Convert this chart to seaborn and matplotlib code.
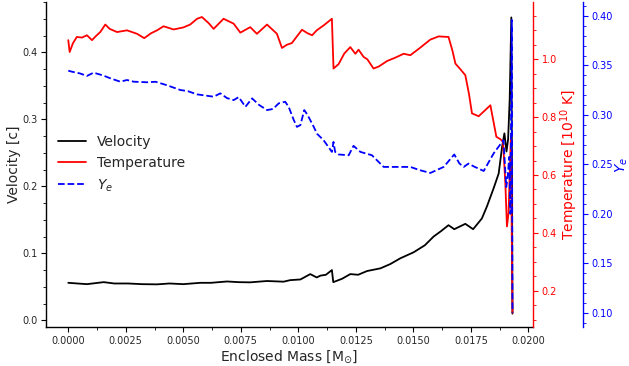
import matplotlib
matplotlib.use("Agg")
import matplotlib.pyplot as plt
from matplotlib.ticker import MultipleLocator, AutoMinorLocator
import seaborn as sns

# Radial profiles against enclosed mass (solar masses)
mass_vel = [0.0000, 0.0004, 0.00081, 0.00154, 0.0020, 0.0026, 0.0032, 0.00386,
            0.0044, 0.0050, 0.00574, 0.0062, 0.0069, 0.0074, 0.0079, 0.00864,
            0.00936, 0.00965, 0.01009, 0.01052, 0.0108, 0.01096, 0.0112, 0.01146,
            0.01152, 0.0119, 0.01226, 0.0126, 0.01299, 0.01357, 0.01400, 0.01443,
            0.01501, 0.0155, 0.01588, 0.0162, 0.01653, 0.01678, 0.01726, 0.01760,
            0.01798, 0.0182, 0.01849, 0.01871, 0.01886, 0.01896, 0.01905, 0.01912,
            0.01919, 0.01926, 0.01931]
velocity = [0.056, 0.055, 0.054, 0.057, 0.055, 0.055, 0.054, 0.0537,
            0.055, 0.054, 0.056, 0.056, 0.058, 0.057, 0.0567, 0.0587,
            0.0577, 0.060, 0.061, 0.069, 0.064, 0.0667, 0.068, 0.075,
            0.057, 0.062, 0.069, 0.068, 0.0736, 0.0776, 0.084, 0.0925,
            0.1015, 0.112, 0.125, 0.133, 0.142, 0.136, 0.144, 0.136,
            0.152, 0.170, 0.197, 0.219, 0.259, 0.279, 0.252, 0.270,
            0.330, 0.452, 0.010]

mass_temp = [0.0000, 0.00006, 0.0002, 0.00037, 0.0006, 0.00081, 0.00103, 0.0012,
             0.00139, 0.00161, 0.0018, 0.00212, 0.00255, 0.00299, 0.0033, 0.0036,
             0.00386, 0.00414, 0.00458, 0.0050, 0.0053, 0.0056, 0.00581, 0.0061,
             0.00632, 0.00675, 0.00719, 0.00748, 0.00791, 0.0082, 0.00864, 0.00907,
             0.00929, 0.0095, 0.00972, 0.0099, 0.01016, 0.0104, 0.0106, 0.0108,
             0.0111, 0.01146, 0.01153, 0.01175, 0.0120, 0.01226, 0.01248, 0.01262,
             0.01284, 0.0130, 0.01327, 0.0135, 0.01386, 0.0142, 0.01458, 0.01487,
             0.0153, 0.01574, 0.0161, 0.01653, 0.0167, 0.01683, 0.01705, 0.01726,
             0.01742, 0.01755, 0.01784, 0.01835, 0.01861, 0.01878, 0.0189, 0.0190,
             0.01907, 0.01914, 0.01924, 0.01931]
temperature = [1.066, 1.025, 1.055, 1.077, 1.075, 1.083, 1.066, 1.080,
               1.094, 1.120, 1.105, 1.094, 1.100, 1.088, 1.073, 1.090,
               1.100, 1.114, 1.103, 1.110, 1.120, 1.140, 1.146, 1.125,
               1.105, 1.140, 1.123, 1.092, 1.111, 1.088, 1.120, 1.088,
               1.039, 1.050, 1.056, 1.075, 1.102, 1.090, 1.083, 1.100,
               1.117, 1.140, 0.968, 0.983, 1.020, 1.042, 1.019, 1.033,
               1.008, 1.000, 0.968, 0.975, 0.994, 1.005, 1.019, 1.014,
               1.040, 1.068, 1.079, 1.077, 1.030, 0.985, 0.965, 0.945,
               0.880, 0.813, 0.803, 0.841, 0.732, 0.724, 0.715, 0.572,
               0.422, 0.469, 0.727, 0.124]

mass_ye = [0.0000, 0.00016, 0.0005, 0.00081, 0.0011, 0.0015, 0.00183, 0.00226,
           0.00255, 0.00284, 0.00342, 0.0038, 0.00429, 0.00487, 0.0052, 0.00559,
           0.00632, 0.00661, 0.0069, 0.00719, 0.00741, 0.0077, 0.00799, 0.0083,
           0.00864, 0.0089, 0.00915, 0.00943, 0.00958, 0.0098, 0.00994, 0.01009,
           0.01026, 0.0104, 0.01067, 0.01081, 0.0111, 0.01146, 0.01153, 0.0116,
           0.01175, 0.01219, 0.0124, 0.0127, 0.0132, 0.01371, 0.01443, 0.01487,
           0.0153, 0.01574, 0.01632, 0.01678, 0.0170, 0.01719, 0.0174, 0.01762,
           0.01806, 0.01849, 0.01886, 0.01892, 0.01904, 0.0191, 0.01917, 0.01922,
           0.01928, 0.01931]
ye = [0.3447, 0.3437, 0.3420, 0.3394, 0.3427, 0.3400, 0.3370, 0.3336,
      0.3353, 0.3336, 0.3330, 0.3335, 0.3300, 0.3252, 0.3240, 0.3208,
      0.3184, 0.3218, 0.3170, 0.3150, 0.3180, 0.3082, 0.3167, 0.3100,
      0.3049, 0.3060, 0.3117, 0.3133, 0.3082, 0.2950, 0.2879, 0.2897,
      0.3049, 0.3000, 0.2880, 0.2810, 0.2744, 0.2626, 0.2727, 0.2626,
      0.2600, 0.2592, 0.2687, 0.2626, 0.2592, 0.2474, 0.2474, 0.2474,
      0.2440, 0.2413, 0.2474, 0.2600, 0.2510, 0.2474, 0.2508, 0.2480,
      0.2433, 0.2610, 0.2727, 0.2744, 0.2270, 0.2370, 0.2575, 0.2000,
      0.3960, 0.1000]

sns.set_style("ticks")
plt.rcParams.update({
    "font.family": ["DejaVu Sans"],
    "axes.labelsize": 10,
    "xtick.labelsize": 7,
    "ytick.labelsize": 7,
    "legend.fontsize": 10,
})

fig = plt.figure(figsize=(6.29, 3.66), dpi=100)
ax = fig.add_axes([0.0726, 0.1057, 0.7753, 0.8897])
ax_t = ax.twinx()
ax_y = ax.twinx()

lw = 1.3
sns.lineplot(x=mass_vel, y=velocity, ax=ax, color="black", lw=lw,
             estimator=None, sort=False, label="Velocity")
sns.lineplot(x=mass_temp, y=temperature, ax=ax_t, color="red", lw=lw,
             estimator=None, sort=False, label="Temperature")
sns.lineplot(x=mass_ye, y=ye, ax=ax_y, color="blue", lw=lw, linestyle="--",
             estimator=None, sort=False, label="$Y_e$")

for a in (ax, ax_t, ax_y):
    leg = a.get_legend()
    if leg is not None:
        leg.remove()

ax.set_xlim(-0.000983, 0.020217)
ax.set_ylim(-0.0104, 0.4755)
ax_t.set_ylim(0.0735, 1.199)
ax_y.set_ylim(0.0852, 0.4145)

# Host axis: velocity
ax.xaxis.set_major_locator(MultipleLocator(0.0025))
ax.xaxis.set_minor_locator(AutoMinorLocator(2))
ax.yaxis.set_major_locator(MultipleLocator(0.1))
ax.yaxis.set_minor_locator(AutoMinorLocator(4))
ax.xaxis.set_major_formatter(plt.FuncFormatter(lambda v, p: f"{v:.4f}"))
ax.yaxis.set_major_formatter(plt.FuncFormatter(lambda v, p: f"{v:.1f}"))
ax.tick_params(which="major", length=3.5, width=0.8, color="black",
               labelcolor="#262626", direction="out", pad=2.5)
ax.tick_params(which="minor", length=2, width=0.6, color="black", direction="out")
ax.spines["top"].set_visible(False)
ax.spines["right"].set_visible(False)
for s in ("left", "bottom"):
    ax.spines[s].set_color("black")
    ax.spines[s].set_linewidth(1.0)
ax.set_xlabel(r"Enclosed Mass [M$_{\odot}$]", labelpad=2)
ax.set_ylabel("Velocity [c]", labelpad=1)

# Temperature axis
ax_t.yaxis.set_major_locator(MultipleLocator(0.2))
ax_t.yaxis.set_minor_locator(AutoMinorLocator(4))
ax_t.yaxis.set_major_formatter(plt.FuncFormatter(lambda v, p: f"{v:.1f}"))
ax_t.tick_params(axis="y", which="major", length=3.5, width=0.8, colors="red",
                 direction="out", pad=2.5)
ax_t.tick_params(axis="y", which="minor", length=2, width=0.6, colors="red",
                 direction="out")
for s in ("top", "left", "bottom"):
    ax_t.spines[s].set_visible(False)
ax_t.spines["right"].set_color("red")
ax_t.spines["right"].set_linewidth(1.0)
ax_t.set_ylabel("Temperature [$10^{10}$ K]", color="red", labelpad=1)

# Electron fraction axis, offset to the right
ax_y.spines["right"].set_position(("outward", 36))
ax_y.yaxis.set_major_locator(MultipleLocator(0.05))
ax_y.yaxis.set_minor_locator(AutoMinorLocator(5))
ax_y.yaxis.set_major_formatter(plt.FuncFormatter(lambda v, p: f"{v:.2f}"))
ax_y.tick_params(axis="y", which="major", length=3.5, width=0.8, colors="blue",
                 direction="out", pad=2)
ax_y.tick_params(axis="y", which="minor", length=2, width=0.6, colors="blue",
                 direction="out")
for s in ("top", "left", "bottom"):
    ax_y.spines[s].set_visible(False)
ax_y.spines["right"].set_color("blue")
ax_y.spines["right"].set_linewidth(1.0)
ax_y.set_ylabel("$Y_e$", color="blue", labelpad=1)

handles = ax.get_lines()[:1] + ax_t.get_lines()[:1] + ax_y.get_lines()[:1]
labels = ["Velocity", "Temperature", "$Y_e$"]
ax_y.legend(handles, labels, loc="center left", frameon=False)

fig.savefig("out.png", dpi=100)
